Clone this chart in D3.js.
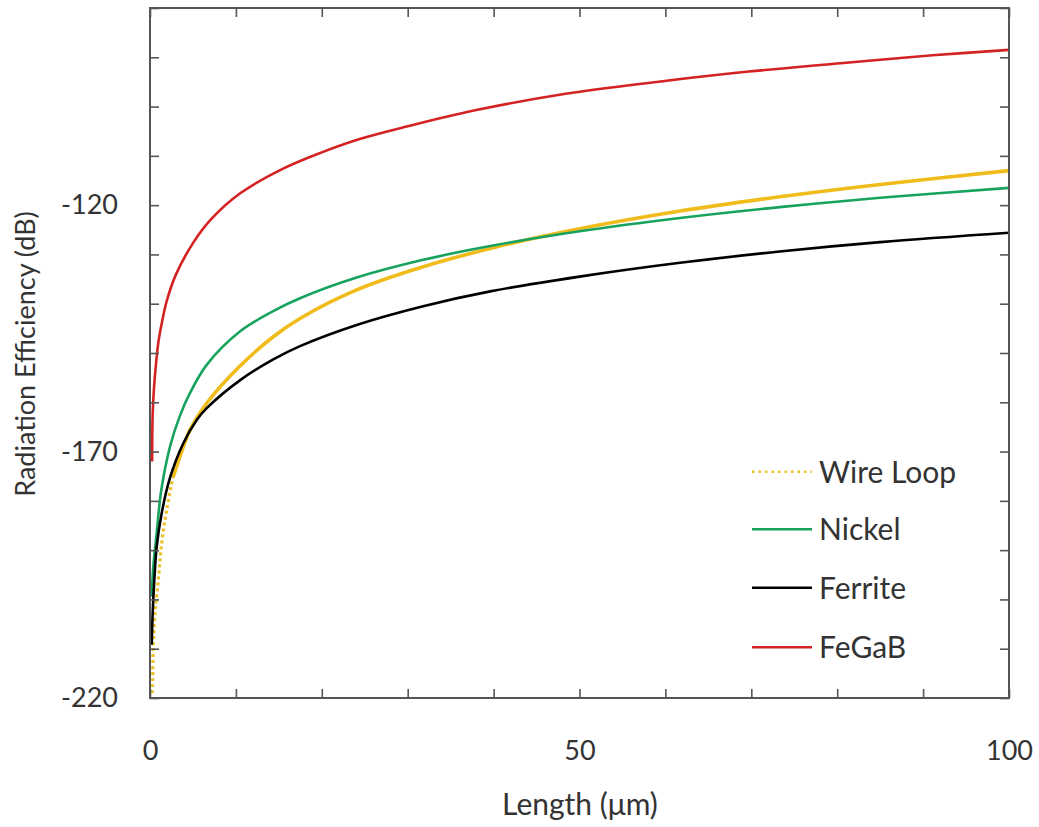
<!DOCTYPE html>
<html>
<head>
<meta charset="utf-8">
<script src="https://cdn.jsdelivr.net/npm/d3@7"></script>
<style>
  body { margin: 0; background: #fff; }
  svg { display: block; }
  text { font-family: Lato, "Open Sans", sans-serif; fill: #333; }
</style>
</head>
<body>
<svg id="chart" width="1039" height="827"></svg>
<script>
// ---- data ----
const seriesNames = ["Wire Loop", "Nickel", "Ferrite", "FeGaB"];

const wireLoopX = [0.27, 0.31, 0.38, 0.58, 0.97, 1.36, 1.94, 2.71, 3.49, 4.66, 6.6, 10.5, 14.35, 17.46, 24.06, 31.8, 40.3, 50, 61.7, 73.3, 85, 100];
const wireLoopY = [-219.0, -216.3, -209.6, -202.8, -196.1, -188.6, -181.9, -175.1, -171.0, -165.6, -160.2, -152.6, -146.7, -143.0, -137.2, -132.5, -128.5, -124.8, -121.2, -118.3, -115.8, -113.0];

const nickelX = [0.2, 0.38, 0.78, 1.3, 2.33, 3.49, 4.66, 6.6, 10.5, 14.35, 17.46, 24.06, 31.8, 39.6, 50, 61.7, 73.3, 85, 100];
const nickelY = [-199.4, -193.5, -186.5, -178.0, -169.0, -162.7, -158.1, -152.4, -145.6, -141.5, -138.9, -134.7, -131.1, -128.3, -125.3, -122.6, -120.4, -118.5, -116.5];

const ferriteX = [0.2, 0.31, 0.5, 0.78, 1.36, 2.33, 3.88, 5.44, 6.6, 10.5, 14.35, 17.46, 24.06, 31.8, 39.6, 50, 61.7, 73.3, 85, 100];
const ferriteY = [-209.2, -202.8, -196.1, -189.3, -182.5, -175.3, -168.3, -163.6, -161.2, -155.5, -151.3, -148.6, -144.3, -140.5, -137.5, -134.5, -131.7, -129.4, -127.5, -125.6];

const fegabX = [0.25, 0.3, 0.45, 0.71, 1.0, 1.33, 1.94, 2.99, 5.08, 7.15, 10.5, 15.5, 20, 24.6, 30, 37.7, 48.4, 59, 69.7, 80.4, 91.1, 100];
const fegabY = [-172.0, -163.0, -157.5, -152.0, -147.5, -144.3, -139.5, -134.2, -127.5, -122.8, -117.6, -112.6, -109.3, -106.5, -104.0, -100.8, -97.4, -95.0, -92.9, -91.2, -89.6, -88.5];

const xTickLabels = [0, 50, 100];
const yTickLabels = [-220, -170, -120];
const xTicks = d3.range(0, 101, 10);
const yTicks = d3.range(-220, -79, 10);

// ---- layout ----
const svg = d3.select("#chart");
const L = 150, R = 1009, T = 8, B = 698;
const x = d3.scaleLinear().domain([0, 100]).range([L, R]);
const y = d3.scaleLinear().domain([-220, -80]).range([B, T]);

const colors = { "Wire Loop": "#f0bc1c", "Nickel": "#17a35e", "Ferrite": "#000000", "FeGaB": "#d42222" };

const toPts = (xs, ys) => xs.map((v, i) => [v, ys[i]]);
const data = {
  "Wire Loop": toPts(wireLoopX, wireLoopY),
  "Nickel": toPts(nickelX, nickelY),
  "Ferrite": toPts(ferriteX, ferriteY),
  "FeGaB": toPts(fegabX, fegabY)
};

svg.append("defs").append("clipPath").attr("id", "clip")
  .append("rect").attr("x", L).attr("y", T).attr("width", R - L).attr("height", B - T);

const line = d3.line().x(d => x(d[0])).y(d => y(d[1])).curve(d3.curveCatmullRom.alpha(0.5));

const plot = svg.append("g").attr("clip-path", "url(#clip)");

// Wire loop: dotted on the steep start, solid-looking thick afterwards
const wl = data["Wire Loop"];
plot.append("path").datum(wl.filter(d => d[0] <= 3.49))
  .attr("fill", "none").attr("stroke", "#e9c22a").attr("stroke-width", 3.2)
  .attr("stroke-dasharray", "3,3").attr("d", line);
plot.append("path").datum(wl.filter(d => d[0] >= 2.71))
  .attr("fill", "none").attr("stroke", colors["Wire Loop"]).attr("stroke-width", 3.6)
  .attr("d", line);

["Nickel", "Ferrite", "FeGaB"].forEach(name => {
  plot.append("path").datum(data[name])
    .attr("fill", "none").attr("stroke", colors[name]).attr("stroke-width", 2.6)
    .attr("stroke-linejoin", "round").attr("d", line);
});

// ---- axes (ticks inward on all four sides) ----
const axisColor = "#555";
const styleAxis = g => {
  g.select(".domain").remove();
  g.selectAll(".tick line").attr("stroke", axisColor).attr("stroke-width", 1.6);
  g.selectAll(".tick text").style("font-size", "27px").attr("fill", "#333");
};

svg.append("g").attr("transform", `translate(0,${B})`)
  .call(d3.axisBottom(x).tickValues(xTicks).tickSize(-9).tickPadding(43)
    .tickFormat(d => xTickLabels.includes(d) ? d : ""))
  .call(styleAxis);
svg.append("g").attr("transform", `translate(0,${T})`)
  .call(d3.axisTop(x).tickValues(xTicks).tickSize(-9).tickFormat(""))
  .call(styleAxis);
svg.append("g").attr("transform", `translate(${L},0)`)
  .call(d3.axisLeft(y).tickValues(yTicks).tickSize(-9).tickPadding(32)
    .tickFormat(d => yTickLabels.includes(d) ? d : ""))
  .call(styleAxis);
svg.append("g").attr("transform", `translate(${R},0)`)
  .call(d3.axisRight(y).tickValues(yTicks).tickSize(-9).tickFormat(""))
  .call(styleAxis);

svg.append("rect").attr("x", L).attr("y", T).attr("width", R - L).attr("height", B - T)
  .attr("fill", "none").attr("stroke", axisColor).attr("stroke-width", 2);

// ---- axis titles ----
svg.append("text").attr("x", 580).attr("y", 815).attr("text-anchor", "middle")
  .style("font-size", "30px").text("Length (\u03bcm)");
svg.append("text").attr("transform", `translate(35,354) rotate(-90)`)
  .attr("text-anchor", "middle").style("font-size", "27px").text("Radiation Efficiency (dB)");

// ---- legend ----
const legY = [471.7, 529.3, 587.7, 647.3];
const leg = svg.append("g");
seriesNames.forEach((name, i) => {
  const ln = leg.append("line").attr("x1", 752).attr("x2", 812)
    .attr("y1", legY[i]).attr("y2", legY[i])
    .attr("stroke", colors[name]).attr("stroke-width", 2.6);
  if (name === "Wire Loop") ln.attr("stroke", "#e9c22a").attr("stroke-dasharray", "2.5,4").attr("stroke-width", 2.4);
  leg.append("text").attr("x", 819).attr("y", legY[i]).attr("dy", "0.36em")
    .style("font-size", "30px").text(name);
});
</script>
</body>
</html>
